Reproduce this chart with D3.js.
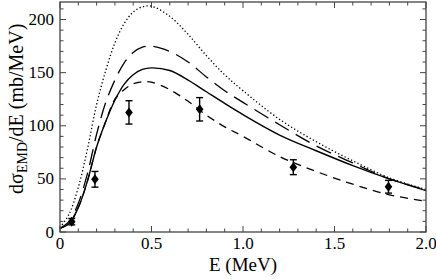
<html lang="en">

<head>
    <title>EMD cross section</title>
    <meta charset="UTF-8">
    <script src="https://d3js.org/d3.v7.min.js"></script>
    <style>
        body { margin: 0; background: #fff; }
        .curve { fill: none; stroke: #000; }
    </style>
</head>

<body>
<div id="div-grafico"></div>
<script>
    // energy grid (MeV) shared by the calculated curves
    var energies = [0, 0.05, 0.1, 0.15, 0.2, 0.25, 0.3, 0.35, 0.4, 0.45, 0.5, 0.6, 0.7, 0.8, 0.9, 1.0, 1.2, 1.4, 1.6, 1.8, 2.0];

    // calculated dsigma/dE (mb/MeV)
    var dottedValues = [4, 17, 42, 78, 120, 152, 178, 196, 207, 212, 212.5, 203, 186, 166, 148, 133, 106, 85, 67, 51, 40];
    var longDashValues = [3.5, 10, 27, 55, 92, 122, 143, 159, 169, 174, 175, 170, 160, 146, 133, 122, 101, 81, 65, 50, 39.5];
    var solidValues = [3.5, 8, 23, 48, 80, 104, 124, 139, 148, 153, 154.5, 152, 143, 132, 121, 110.5, 91.3, 76.5, 62.5, 50, 39];
    var shortDashValues = [3.5, 8, 23, 48, 80, 104, 125, 134, 139.5, 141.5, 141, 134, 123, 110, 99, 90, 71, 57, 45, 35, 29];

    // measured points
    var dataE = [0.064, 0.191, 0.377, 0.763, 1.275, 1.795];
    var dataValues = [9.7, 49.6, 112.6, 115.5, 61, 42.6];
    var dataErrors = [3, 7.4, 11, 11, 7, 6];

    var xTicks = [0, 0.5, 1.0, 1.5, 2.0];
    var xTickLabels = ["0", "0.5", "1.0", "1.5", "2.0"];
    var yTicks = [0, 50, 100, 150, 200];

    var serif = "Liberation Serif";

    // set the dimensions and margins of the graph
    var margin = {top: 2, right: 10, bottom: 47, left: 60},
        width = 436 - margin.left - margin.right,
        height = 279 - margin.top - margin.bottom;

    var x = d3.scaleLinear().domain([0, 2]).range([0, width]);
    var y = d3.scaleLinear().domain([0, 216.5]).range([height, 0]);

    var svg = d3.select("#div-grafico").append("svg")
        .attr("width", 436)
        .attr("height", 279)
        .append("g")
        .attr("transform", "translate(" + margin.left + "," + margin.top + ")");

    // curves
    function series(values) {
        return energies.map(function (e, i) { return {e: e, v: values[i]}; });
    }
    var line = d3.line()
        .x(function (d) { return x(d.e); })
        .y(function (d) { return y(d.v); })
        .curve(d3.curveCatmullRom);

    var curves = [
        {values: dottedValues, dash: "1.3,2.3", w: 1.3},
        {values: longDashValues, dash: "16,8", w: 1.3},
        {values: solidValues, dash: null, w: 1.4},
        {values: shortDashValues, dash: "8,6", w: 1.3}
    ];
    curves.forEach(function (c) {
        svg.append("path")
            .datum(series(c.values))
            .attr("class", "curve")
            .attr("stroke-width", c.w)
            .attr("stroke-dasharray", c.dash)
            .attr("d", line);
    });

    // error bars + diamonds
    var points = dataE.map(function (e, i) { return {e: e, v: dataValues[i], err: dataErrors[i]}; });
    var pts = svg.append("g").selectAll("g").data(points).enter().append("g");
    pts.append("line")
        .attr("x1", function (d) { return x(d.e); })
        .attr("x2", function (d) { return x(d.e); })
        .attr("y1", function (d) { return y(d.v + d.err); })
        .attr("y2", function (d) { return y(d.v - d.err); })
        .attr("stroke", "#000").attr("stroke-width", 1.4);
    [1, -1].forEach(function (s) {
        pts.append("line")
            .attr("x1", function (d) { return x(d.e) - 3.5; })
            .attr("x2", function (d) { return x(d.e) + 3.5; })
            .attr("y1", function (d) { return y(d.v + s * d.err); })
            .attr("y2", function (d) { return y(d.v + s * d.err); })
            .attr("stroke", "#000").attr("stroke-width", 1.4);
    });
    pts.append("path")
        .attr("transform", function (d) { return "translate(" + x(d.e) + "," + y(d.v) + ")"; })
        .attr("d", "M0,-5L3.8,0L0,5L-3.8,0Z")
        .attr("fill", "#000");

    // frame with inward ticks on all four sides
    svg.append("rect")
        .attr("width", width).attr("height", height)
        .attr("fill", "none").attr("stroke", "#444").attr("stroke-width", 1.3);

    var frame = svg.append("g").attr("stroke", "#444").attr("stroke-width", 1);
    d3.range(0, 2.001, 0.1).forEach(function (t) {
        var major = Math.abs(t * 2 - Math.round(t * 2)) < 1e-6;
        var len = major ? 6 : 3.5;
        frame.append("line").attr("x1", x(t)).attr("x2", x(t)).attr("y1", height).attr("y2", height - len);
        frame.append("line").attr("x1", x(t)).attr("x2", x(t)).attr("y1", 0).attr("y2", len);
    });
    d3.range(0, 216, 10).forEach(function (t) {
        var len = (t % 50 === 0) ? 6 : 3.5;
        frame.append("line").attr("x1", 0).attr("x2", len).attr("y1", y(t)).attr("y2", y(t));
        frame.append("line").attr("x1", width).attr("x2", width - len).attr("y1", y(t)).attr("y2", y(t));
    });

    // tick labels
    svg.append("g").selectAll("text").data(xTicks).enter().append("text")
        .attr("font-family", serif).attr("font-size", 17)
        .attr("x", function (d) { return x(d); })
        .attr("y", height + 17)
        .attr("text-anchor", "middle")
        .text(function (d, i) { return xTickLabels[i]; });
    svg.append("g").selectAll("text").data(yTicks).enter().append("text")
        .attr("font-family", serif).attr("font-size", 17)
        .attr("x", -6)
        .attr("y", function (d) { return y(d) + 5.5; })
        .attr("text-anchor", "end")
        .text(function (d) { return d; });

    // axis titles
    svg.append("text")
        .attr("font-family", serif).attr("font-size", 19)
        .attr("x", width / 2)
        .attr("y", height + 39)
        .attr("text-anchor", "middle")
        .text("E (MeV)");

    var yt = svg.append("text")
        .attr("font-family", serif).attr("font-size", 20)
        .attr("transform", "translate(-37," + (y(116)) + ") rotate(-90)")
        .attr("text-anchor", "middle");
    yt.append("tspan").text("d\u03c3");
    yt.append("tspan").attr("font-size", 14).attr("dy", 4).text("EMD");
    yt.append("tspan").attr("dy", -4).text("/dE (mb/MeV)");
</script>
</body>

</html>
